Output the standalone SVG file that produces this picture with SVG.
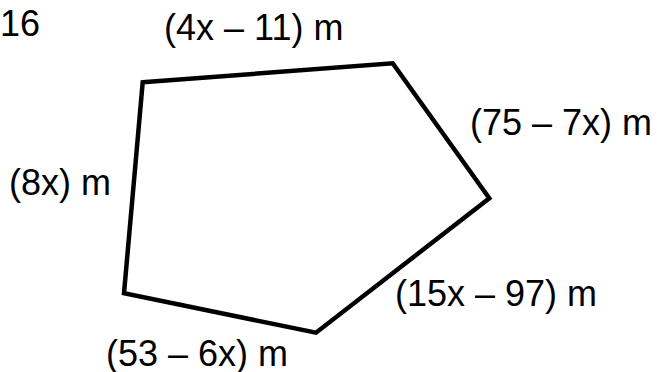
<svg xmlns="http://www.w3.org/2000/svg" width="660" height="372" viewBox="0 0 660 372">
<style>
text{font-family:"Liberation Sans",Arial,sans-serif;font-size:36px;fill:#000}
.edge{fill:none;stroke:#000;stroke-width:4.5;stroke-linejoin:miter}
</style>
<rect width="660" height="372" fill="#fff"/>
<g id="pentagon">
<polygon class="edge" points="142.7,82.3 392.7,63.3 489.3,198.3 316,332.7 124,293.3"/>
</g>
<g id="labels">
<text x="0" y="36">16</text>
<text x="164" y="40">(4x – 11) m</text>
<text x="470" y="135">(75 – 7x) m</text>
<text x="9" y="195">(8x) m</text>
<text x="395" y="306">(15x – 97) m</text>
<text x="106" y="366">(53 – 6x) m</text>
</g>
</svg>
